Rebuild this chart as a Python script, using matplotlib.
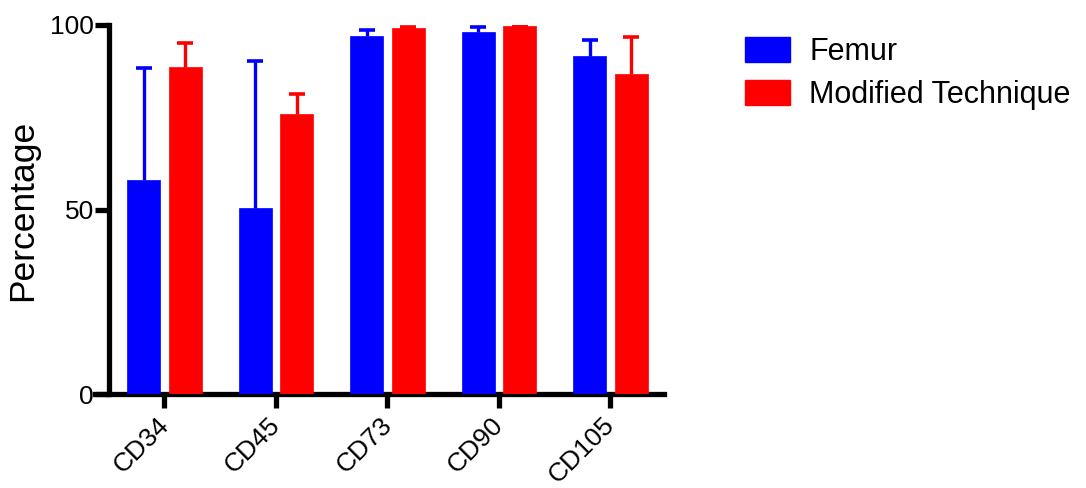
import matplotlib
matplotlib.use("Agg")
import matplotlib.pyplot as plt
import numpy as np
from matplotlib.patches import Patch
from matplotlib.transforms import ScaledTranslation

plt.rcParams['font.family'] = ['Liberation Sans', 'DejaVu Sans']

categories = ["CD34", "CD45", "CD73", "CD90", "CD105"]
femur = [58.0, 50.3, 97.0, 98.2, 91.7]
femur_err = [30.4, 40.0, 1.6, 1.3, 4.2]
modified = [88.7, 75.8, 99.3, 99.8, 86.8]
modified_err = [6.5, 5.6, 0.2, 0.2, 9.9]
series_names = ["Femur", "Modified Technique"]
colors = ["#0000FF", "#FF0000"]

W, H = 1086, 488
fig = plt.figure(figsize=(W/100, H/100), dpi=100)
ax = fig.add_axes([95/W, (H-394)/H, 569/W, 369/H])

x = np.arange(len(categories))
bw = 0.296
off = 0.188
lw_sp = 3.8
for vals, errs, col, sgn in [(femur, femur_err, colors[0], -1), (modified, modified_err, colors[1], 1)]:
    vals = np.array(vals)
    errs = np.array(errs)
    xp = x + sgn*off
    ax.bar(xp, vals, width=bw, color=col, edgecolor=col, linewidth=0.5, zorder=3)
    ax.errorbar(xp, vals, yerr=[np.zeros(len(vals)), errs], fmt='none',
                ecolor=col, elinewidth=2.4, capsize=0, zorder=2)
    ax.plot(xp, vals + errs, linestyle='none', marker='_', markersize=12,
            markeredgewidth=2.6, color=col, zorder=2)

ax.set_xlim(-0.623, 4.48)
ax.set_ylim(0, 100)
ax.set_yticks([0, 50, 100])
ax.set_xticks(x)
ax.set_xticklabels([])
lab_tr = ax.get_xaxis_transform() + ScaledTranslation(-8/100, -19/100, fig.dpi_scale_trans)
for xi, c in zip(x, categories):
    ax.text(xi, 0, c, transform=lab_tr, rotation=45, ha='right', va='top',
            rotation_mode='anchor', fontsize=19, clip_on=False)
for sp in ['top', 'right']:
    ax.spines[sp].set_visible(False)
ax.spines['left'].set_position(('axes', 14/569))
ax.spines['left'].set_linewidth(lw_sp)
ax.spines['bottom'].set_linewidth(lw_sp)
ax.spines['left'].set_capstyle('projecting')
ax.spines['bottom'].set_capstyle('projecting')
ax.tick_params(axis='both', width=lw_sp, length=10, labelsize=19, pad=1)
fig.text(23/W, 1-210/H, "Percentage", rotation=90, fontsize=25.5, ha='center', va='center')

handles = [Patch(facecolor=c, edgecolor=c) for c in colors]
fig.legend(handles, series_names, loc='upper left', bbox_to_anchor=(745/W, 1-37/H),
           frameon=False, fontsize=22, handlelength=1.48, handleheight=0.85,
           handletextpad=0.62, labelspacing=0.43, borderaxespad=0, borderpad=0)

fig.savefig("out.png", dpi=100)
